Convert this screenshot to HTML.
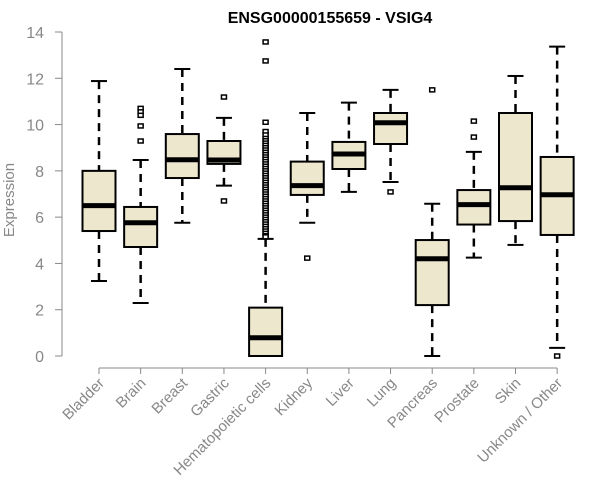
<!DOCTYPE html>
<html><head><meta charset="utf-8"><style>
body{margin:0;background:#fff;}
svg{display:block;font-family:"Liberation Sans",Arial,sans-serif;}
</style></head><body>
<svg id="chart" width="600" height="500">
<text x="330" y="23" text-anchor="middle" font-weight="bold" font-size="16" fill="#000">ENSG00000155659 - VSIG4</text>
<text transform="translate(14,200) rotate(-90)" text-anchor="middle" font-size="15" fill="#888">Expression</text>
<g id="yaxis"></g>
<g id="xaxis"></g>
<g id="plot"></g>
</svg>
<script>
const categories=["Bladder","Brain","Breast","Gastric","Hematopoietic cells","Kidney","Liver","Lung","Pancreas","Prostate","Skin","Unknown / Other"];
const lowWhisker=[3.24,2.29,5.76,7.36,0,5.76,7.09,7.52,0,4.25,4.8,0.35];
const q1=[5.4,4.71,7.69,8.3,0,6.96,8.08,9.16,2.2,5.68,5.83,5.23];
const medians=[6.5,5.76,8.48,8.47,0.79,7.36,8.73,10.08,4.2,6.54,7.27,6.97];
const q3=[8.0,6.44,9.59,9.29,2.09,8.4,9.25,10.5,5.01,7.17,10.5,8.6];
const highWhisker=[11.88,8.47,12.4,10.29,5.06,10.5,10.95,11.5,6.58,8.82,12.1,13.37];
const outliers=[[],[10.7,10.55,10.4,9.94,9.29],[],[11.19,6.7],
[13.57,12.75,10.1,9.7,9.55,9.4,9.3,9.2,9.1,9.0,8.9,8.8,8.7,8.6,8.5,8.4,8.3,8.2,8.1,8.0,7.9,7.8,7.7,7.6,7.5,7.4,7.3,7.2,7.1,7.0,6.9,6.8,6.7,6.6,6.5,6.4,6.3,6.2,6.1,6.0,5.9,5.8,5.7,5.6,5.5,5.4,5.3,5.2,5.15],
[4.23],[],[7.09],[11.5],[10.15,9.46],[],[0.0]];
const yTicks=[0,2,4,6,8,10,12,14];

const NS="http://www.w3.org/2000/svg";
const y=v=>356-v*(324/14);
const x=i=>99+i*41.65;
const plot=document.getElementById('plot'),ya=document.getElementById('yaxis'),xa=document.getElementById('xaxis');
function mk(tag,attrs,parent){const e=document.createElementNS(NS,tag);for(const k in attrs)e.setAttribute(k,attrs[k]);parent.appendChild(e);return e;}
// y axis
mk('line',{x1:62,x2:62,y1:y(0),y2:y(14),stroke:'#888','stroke-width':1},ya);
yTicks.forEach(t=>{
 mk('line',{x1:55,x2:62,y1:y(t),y2:y(t),stroke:'#888'},ya);
 const tx=mk('text',{x:44,y:y(t)+6,'text-anchor':'end','font-size':16,fill:'#888'},ya);
 tx.textContent=t;
 
 
});
// x axis
mk('line',{x1:x(0),x2:x(categories.length-1),y1:368,y2:368,stroke:'#888'},xa);
categories.forEach((c,i)=>{
 mk('line',{x1:x(i),x2:x(i),y1:368,y2:374,stroke:'#888'},xa);
 const tx=mk('text',{transform:`translate(${x(i)+6},${384}) rotate(-45)`,'text-anchor':'end','font-size':15,fill:'#888'},xa);
 tx.textContent=c;
 
 
});
// boxes
const hw=16.5;
categories.forEach((c,i)=>{
 const g=mk('g',{},plot);
 
 
 const cx=x(i);
 mk('line',{x1:cx,x2:cx,y1:y(highWhisker[i]),y2:y(q3[i]),stroke:'#000','stroke-width':2.5,'stroke-dasharray':'8,6'},g);
 mk('line',{x1:cx,x2:cx,y1:y(q1[i]),y2:y(lowWhisker[i]),stroke:'#000','stroke-width':2.5,'stroke-dasharray':'8,6'},g);
 mk('line',{x1:cx-8,x2:cx+8,y1:y(highWhisker[i]),y2:y(highWhisker[i]),stroke:'#000','stroke-width':2},g);
 mk('line',{x1:cx-8,x2:cx+8,y1:y(lowWhisker[i]),y2:y(lowWhisker[i]),stroke:'#000','stroke-width':2},g);
 mk('rect',{x:cx-hw,y:y(q3[i]),width:hw*2,height:Math.max(0,y(q1[i])-y(q3[i])),fill:'#ede7cd',stroke:'#000','stroke-width':2},g);
 mk('line',{x1:cx-hw,x2:cx+hw,y1:y(medians[i]),y2:y(medians[i]),stroke:'#000','stroke-width':5},g);
 outliers[i].forEach(v=>{
  const r=mk('rect',{x:cx-2.5,y:y(v)-2,width:5,height:4,fill:'#fff',stroke:'#000','stroke-width':1.5},g);
  
  
 });
});
</script>
</body></html>
